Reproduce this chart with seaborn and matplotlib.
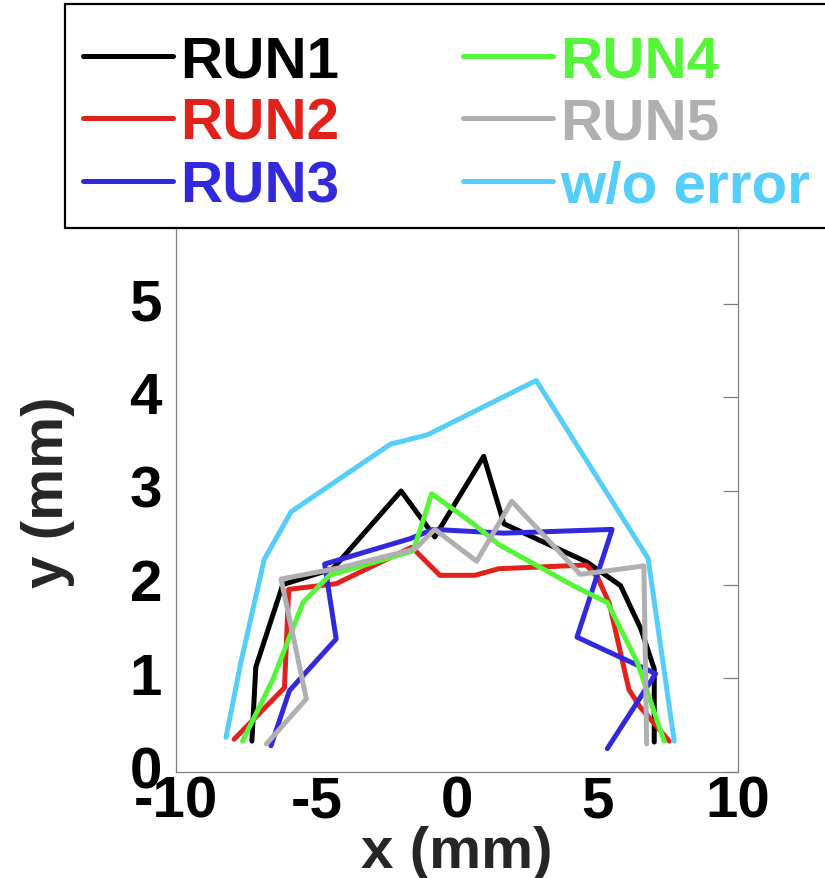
import numpy as np
import pandas as pd
import matplotlib
matplotlib.use("Agg")
import matplotlib.pyplot as plt
import matplotlib.transforms as mtransforms
from matplotlib.patches import Rectangle
import seaborn as sns

# traced profiles (x, y in mm)
run1_x = [-7.30, -7.16, -6.20, -4.42, -1.99, -0.79, 0.95, 1.67, 4.63, 5.82, 6.54, 7.02, 7.02]
run1_y = [0.33, 1.12, 2.00, 2.17, 3.00, 2.51, 3.37, 2.65, 2.24, 1.99, 1.53, 1.10, 0.32]

run2_x = [-7.93, -6.14, -5.99, -4.30, -1.61, -0.61, 0.64, 1.48, 4.60, 5.00, 5.42, 5.95, 6.12, 6.50, 7.55]
run2_y = [0.35, 0.90, 1.95, 2.01, 2.40, 2.10, 2.10, 2.17, 2.21, 2.08, 1.80, 1.10, 0.88, 0.70, 0.33]

run3_x = [-6.62, -5.96, -4.30, -4.71, -1.68, -0.84, 1.67, 5.52, 4.27, 7.07, 5.35]
run3_y = [0.28, 0.87, 1.42, 2.22, 2.49, 2.59, 2.55, 2.59, 1.44, 1.05, 0.25]

run4_x = [-7.63, -6.55, -5.48, -4.54, -1.56, -0.90, 0.58, 1.48, 4.26, 5.35, 6.42, 7.37]
run4_y = [0.33, 0.99, 1.81, 2.10, 2.36, 2.97, 2.65, 2.43, 1.97, 1.81, 1.17, 0.33]

run5_x = [-6.78, -5.36, -6.26, -4.17, -1.50, -0.79, 0.70, 1.95, 4.39, 6.65, 6.75]
run5_y = [0.30, 0.78, 2.06, 2.18, 2.38, 2.59, 2.25, 2.89, 2.11, 2.20, 0.30]

ideal_x = [-8.22, -7.70, -6.86, -5.90, -2.37, -1.05, 2.82, 6.80, 7.73]
ideal_y = [0.37, 1.16, 2.27, 2.78, 3.50, 3.60, 4.18, 2.28, 0.33]

series_names = ["RUN1", "RUN2", "RUN3", "RUN4", "RUN5", "w/o error"]
series_colors = ["#000000", "#E0221B", "#3228DC", "#55F53A", "#B0B0B0", "#56CEFA"]

xticks = [-10, -5, 0, 5, 10]
yticks = [0, 1, 2, 3, 4, 5]

# long table for seaborn
frames = []
for name, xs, ys in zip(series_names,
                        [run1_x, run2_x, run3_x, run4_x, run5_x, ideal_x],
                        [run1_y, run2_y, run3_y, run4_y, run5_y, ideal_y]):
    frames.append(pd.DataFrame({"x": xs, "y": ys, "run": name}))
df = pd.concat(frames, ignore_index=True)

sns.set_theme(style="white")
plt.rcParams["font.family"] = ["Liberation Sans", "DejaVu Sans"]
plt.rcParams["font.weight"] = "bold"

W, H = 825, 879
fig = plt.figure(figsize=(W / 100, H / 100), dpi=100)
ax = fig.add_axes([176 / W, 1 - 773 / H, (738 - 176) / W, (773 - 211) / H])

sns.lineplot(data=df, x="x", y="y", hue="run", hue_order=series_names,
             palette=dict(zip(series_names, series_colors)),
             sort=False, estimator=None, linewidth=3.6, ax=ax, legend=False)

ax.set_xlim(-10, 10)
ax.set_ylim(0, 6)
ax.set_xticks(xticks)
ax.set_yticks(yticks)
ax.set_xticklabels([str(t) for t in xticks])
ax.set_yticklabels([str(t) for t in yticks])

for side in ["left", "right", "top", "bottom"]:
    ax.spines[side].set_color("#808080")
    ax.spines[side].set_linewidth(0.9)

ax.tick_params(axis="both", direction="in", length=11, width=0.9, color="#808080",
               labelsize=42, labelcolor="black", top=True, right=True)
ax.tick_params(axis="y", pad=10)
ax.tick_params(axis="x", pad=1.5)
for lab in ax.get_xticklabels() + ax.get_yticklabels():
    lab.set_fontweight("bold")
# y tick labels sit a little above their ticks
shift = mtransforms.ScaledTranslation(0, 4 / 72, fig.dpi_scale_trans)
for lab in ax.get_yticklabels():
    lab.set_transform(lab.get_transform() + shift)

ax.set_xlabel("x (mm)", fontsize=42, fontweight="bold")
ax.set_ylabel("y (mm)", fontsize=42, fontweight="bold")
ax.xaxis.set_label_coords(0.5, -0.094)
ax.yaxis.set_label_coords(-0.18, 0.5)

# legend box, running off the right edge like the original
fig.patches.append(Rectangle((65 / W, 1 - 229 / H), (840 - 65) / W, (229 - 5) / H,
                             transform=fig.transFigure, facecolor="white",
                             edgecolor="black", linewidth=1.6, zorder=3))
leg = fig.legend(handles=ax.lines[:6], labels=series_names, ncol=2,
                 loc="upper left", bbox_to_anchor=(83 / W, 1 - 35 / H),
                 borderaxespad=0, borderpad=0, frameon=False,
                 prop={"size": 42, "weight": "bold"}, handlelength=1.54,
                 handletextpad=0.12, columnspacing=2.13, labelspacing=0.15,
                 labelcolor="linecolor")
leg.set_zorder(5)

fig.savefig("out.png", dpi=100)
